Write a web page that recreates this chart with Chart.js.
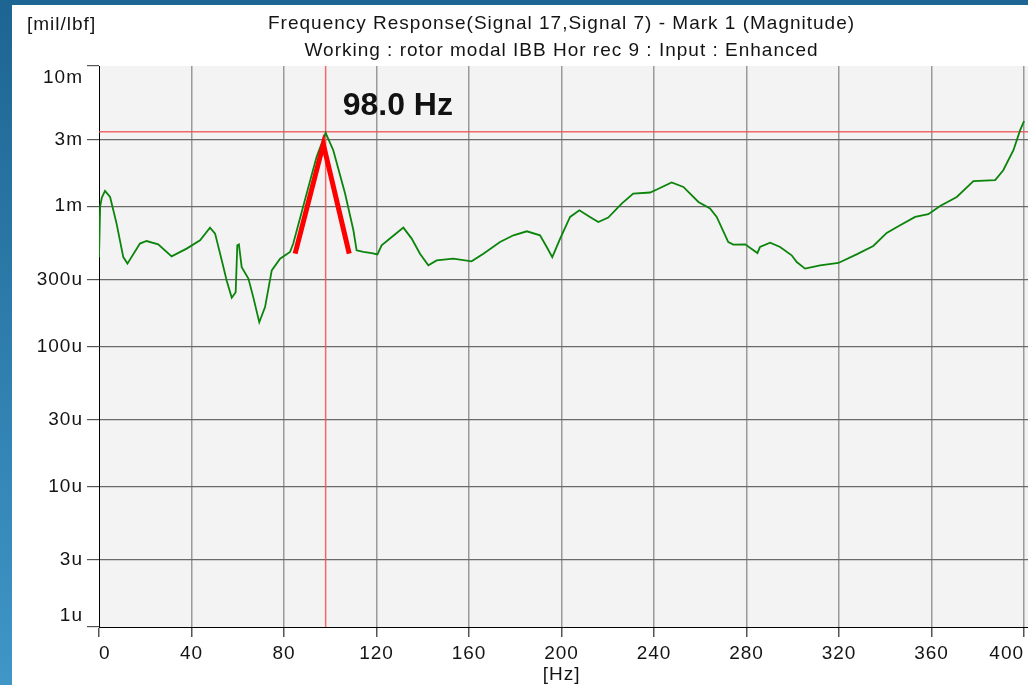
<!DOCTYPE html>
<html>
<head>
<meta charset="utf-8">
<script src="https://cdn.jsdelivr.net/npm/chart.js@4.4.1/dist/chart.umd.min.js"></script>
<style>
  html, body { margin: 0; padding: 0; }
  #wrap { width: 1028px; height: 685px; position: relative; }
</style>
</head>
<body>
<div id="wrap"><canvas id="frf"></canvas></div>
<script>
// magnitude curve (Hz, mil/lbf)
const freqHz = [0, 0.5, 1.2, 2.6, 4.8, 7.6, 10.5, 12.3, 17.7, 20.6, 25.6, 31.4, 37.9, 43.7, 48, 50.2,
  53.1, 55.2, 57.4, 59.1, 59.8, 60.5, 61.7, 64.6, 66.7, 69.3, 71.8, 74.7, 78.3, 82.6, 84, 89.8,
  94.1, 98, 101.3, 106.4, 110, 111.4, 114.3, 117.9, 120.4, 122.2, 126.6, 131.6, 135.2, 138.8,
  142.4, 146, 153.2, 161.1, 166.2, 173.4, 179.2, 185, 190.7, 193.6, 196, 199.4, 203.7, 207.7,
  212.3, 215.9, 220.2, 226, 231, 238.3, 241.2, 247.6, 252.7, 259.2, 264.2, 267.1, 272.1, 274.3,
  279.4, 284.7, 285.8, 290.2, 294.5, 299.5, 301.7, 305.3, 311.8, 319.7, 327.6, 334.8, 340.6,
  346.4, 352.9, 358.6, 363.7, 370.9, 378.1, 387.5, 391, 395.4, 398.3, 400];
const magnitude = [4.32e-4, 1.0e-3, 1.15e-3, 1.286e-3, 1.165e-3, 7.52e-4, 4.34e-4, 3.90e-4, 5.42e-4, 5.65e-4, 5.35e-4, 4.39e-4, 4.99e-4, 5.71e-4, 7.04e-4, 6.38e-4,
  4.11e-4, 2.96e-4, 2.23e-4, 2.44e-4, 5.27e-4, 5.35e-4, 3.68e-4, 3.05e-4, 2.25e-4, 1.49e-4, 1.91e-4, 3.49e-4, 4.23e-4, 4.72e-4, 5.42e-4, 1.232e-3,
  2.25e-3, 3.34e-3, 2.51e-3, 1.232e-3, 6.74e-4, 4.85e-4, 4.72e-4, 4.64e-4, 4.54e-4, 5.27e-4, 6.03e-4, 7.04e-4, 5.88e-4, 4.59e-4,
  3.79e-4, 4.11e-4, 4.23e-4, 4.05e-4, 4.59e-4, 5.56e-4, 6.21e-4, 6.63e-4, 6.21e-4, 5.12e-4, 4.34e-4, 5.88e-4, 8.39e-4, 9.36e-4,
  8.39e-4, 7.72e-4, 8.31e-4, 1.045e-3, 1.232e-3, 1.253e-3, 1.316e-3, 1.477e-3, 1.373e-3, 1.073e-3, 9.63e-4, 8.39e-4, 5.56e-4, 5.33e-4,
  5.35e-4, 4.64e-4, 5.12e-4, 5.50e-4, 5.12e-4, 4.47e-4, 4.00e-4, 3.59e-4, 3.79e-4, 3.94e-4, 4.54e-4, 5.21e-4, 6.45e-4,
  7.31e-4, 8.39e-4, 8.77e-4, 1.005e-3, 1.165e-3, 1.509e-3, 1.534e-3, 1.807e-3, 2.51e-3, 3.49e-3, 4.05e-3];

// red peak marker (the thick "^")
const markerHz = [84.8, 97.0, 108.2];
const markerMag = [4.59e-4, 2.77e-3, 4.59e-4];

// cursor
const cursorHz = 98.0;
const cursorMag = 3.40e-3;
const cursorLabel = "98.0 Hz";

const yTickValues = [1e-2, 3e-3, 1e-3, 3e-4, 1e-4, 3e-5, 1e-5, 3e-6, 1e-6];
const yTickLabels = ["10m", "3m", "1m", "300u", "100u", "30u", "10u", "3u", "1u"];
const xTickValues = [0, 40, 80, 120, 160, 200, 240, 280, 320, 360, 400];

const titleLine1 = "Frequency Response(Signal 17,Signal 7) - Mark 1 (Magnitude)";
const titleLine2 = "Working : rotor modal IBB Hor rec 9 : Input : Enhanced";
const yUnit = "[mil/lbf]";
const xUnit = "[Hz]";

const FONT = '"Liberation Sans", Arial, sans-serif';
const X_MAX = 401.7;

function toXY(xs, ys) {
  return xs.map((x, i) => ({ x: x, y: ys[i] }));
}

// first label sits below its tick, last one above (like the x axis "inner")
function yLabel(value, index) {
  const t = yTickLabels[index];
  if (index === 0) return ["", t];
  if (index === yTickLabels.length - 1) return [t, ""];
  return t;
}

// backgrounds + texts
const framePlugin = {
  id: "frame",
  beforeDraw(chart) {
    const c = chart.ctx;
    const w = chart.width, h = chart.height;
    const a = chart.chartArea;
    c.save();
    let g = c.createLinearGradient(0, 0, 0, h);
    g.addColorStop(0, "#1d6592");
    g.addColorStop(1, "#3f96c7");
    c.fillStyle = g;
    c.fillRect(0, 0, w, h);
    c.fillStyle = "#ffffff";
    c.fillRect(12, 5, w - 12, h - 5);
    c.fillStyle = "#f3f3f3";
    c.fillRect(a.left, a.top, a.right - a.left, a.bottom - a.top);
    c.restore();
    // the original app draws its text a bit loose
    c.letterSpacing = "1px";
  },
  afterDraw(chart) {
    const c = chart.ctx;
    const xs = chart.scales.x;
    const mid = (xs.getPixelForValue(0) + xs.getPixelForValue(400)) / 2;
    c.save();
    c.letterSpacing = "1px";
    c.fillStyle = "#141414";
    c.font = "19px " + FONT;
    c.textAlign = "center";
    c.textBaseline = "middle";
    c.fillText(titleLine1, mid, 24);
    c.fillText(titleLine2, mid, 51);
    c.fillText(xUnit, mid, 675);
    c.textAlign = "left";
    c.fillText(yUnit, 27, 25);
    c.letterSpacing = "0px";
    c.font = "bold 32px " + FONT;
    c.textBaseline = "alphabetic";
    c.fillStyle = "#111111";
    c.fillText(cursorLabel, xs.getPixelForValue(cursorHz) + 17, 115);
    c.restore();
  }
};

new Chart(document.getElementById("frf"), {
  type: "line",
  data: {
    datasets: [
      {
        data: [{ x: 0, y: cursorMag }, { x: X_MAX, y: cursorMag }],
        borderColor: "rgba(240,80,80,0.85)",
        borderWidth: 1.5,
        pointRadius: 0,
        order: 3
      },
      {
        data: [{ x: cursorHz, y: 1e-6 }, { x: cursorHz, y: 1e-2 }],
        borderColor: "rgba(240,80,80,0.85)",
        borderWidth: 1.5,
        pointRadius: 0,
        order: 3
      },
      {
        data: toXY(freqHz, magnitude),
        borderColor: "#0a840a",
        borderWidth: 1.8,
        pointRadius: 0,
        tension: 0,
        order: 2
      },
      {
        data: toXY(markerHz, markerMag),
        borderColor: "#ff0000",
        borderWidth: 5,
        pointRadius: 0,
        tension: 0,
        order: 1
      }
    ]
  },
  options: {
    responsive: true,
    maintainAspectRatio: false,
    animation: false,
    layout: { padding: { top: 66, left: 0, right: 0, bottom: 0 } },
    plugins: {
      legend: { display: false },
      tooltip: { enabled: false },
      title: { display: false }
    },
    scales: {
      x: {
        type: "linear",
        min: 0,
        max: X_MAX,
        afterBuildTicks: (scale) => { scale.ticks = xTickValues.map(v => ({ value: v })); },
        afterFit: (scale) => {
          scale.height = 58;
          scale.paddingLeft = 0;
          scale.paddingRight = 0;
        },
        grid: {
          color: (ctx) => ctx.tick && ctx.tick.value === 0 ? "rgba(0,0,0,0)" : "#9a9a9a",
          tickColor: "#555555",
          tickLength: 10,
          lineWidth: 1.5
        },
        border: { color: "#000000", width: 1 },
        ticks: {
          autoSkip: false,
          maxRotation: 0,
          align: "inner",
          padding: 5,
          color: "#141414",
          font: { family: FONT, size: 19 }
        }
      },
      y: {
        type: "logarithmic",
        min: 1e-6,
        max: 1e-2,
        afterBuildTicks: (scale) => { scale.ticks = yTickValues.map(v => ({ value: v })); },
        afterFit: (scale) => {
          scale.width = 99;
          scale.paddingTop = 0;
          scale.paddingBottom = 0;
        },
        grid: {
          color: (ctx) => {
            const v = ctx.tick ? ctx.tick.value : 0;
            return (v === 1e-2 || v === 1e-6) ? "rgba(0,0,0,0)" : "#6a6a6a";
          },
          tickColor: "#555555",
          tickLength: 12,
          lineWidth: 1.2
        },
        border: { color: "#000000", width: 1 },
        ticks: {
          autoSkip: false,
          padding: 4,
          color: "#141414",
          font: { family: FONT, size: 19 },
          callback: yLabel
        }
      }
    }
  },
  plugins: [framePlugin]
});
</script>
</body>
</html>
